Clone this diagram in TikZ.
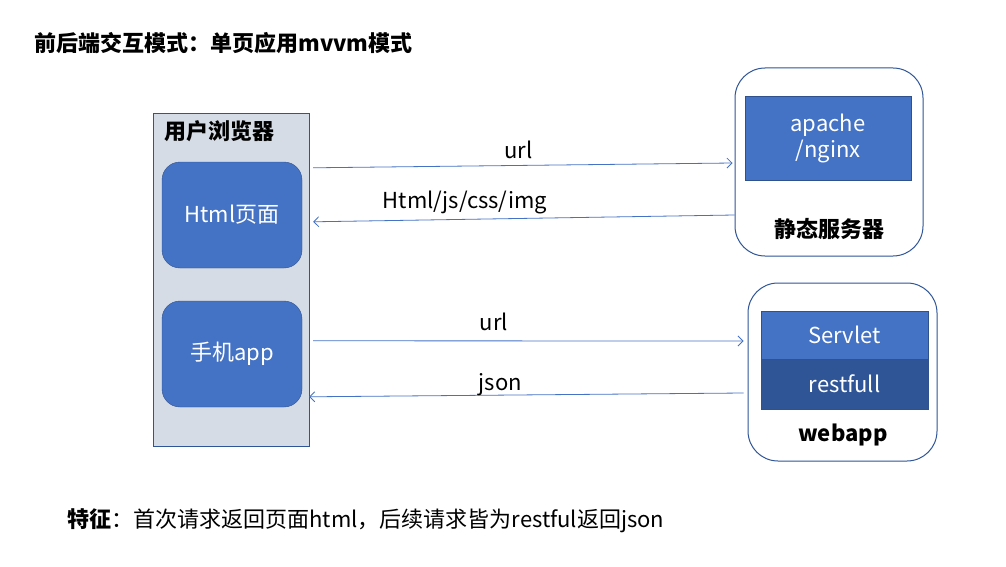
\documentclass[tikz,border=0pt]{standalone}
\usepackage{fontspec}
\setmainfont{Noto Sans CJK SC}
\usepackage{xcolor}
\usetikzlibrary{arrows}
\usetikzlibrary{arrows.meta}
\usetikzlibrary{calc}
\definecolor{boxblue}{HTML}{4472C4}
\definecolor{darkblue}{HTML}{2F5597}
\definecolor{edgeblue}{HTML}{2F528F}
\definecolor{panel}{HTML}{D6DCE5}
\newcommand{\txt}{\fontsize{22}{26}\selectfont}

\begin{document}
\begin{tikzpicture}[x=1pt,y=-1pt,
    every node/.style={font=\txt},
    bold/.style={font=\txt\bfseries},
    card/.style={draw=edgeblue,fill=boxblue,rounded corners=18pt,minimum width=140pt,minimum height=106pt,text=white},
    server/.style={draw=darkblue,line width=1pt,fill=white,rounded corners=30pt},
    block/.style={draw=edgeblue,fill=boxblue,text=white,inner sep=0pt,align=center},
    link/.style={->,>={Straight Barb[length=5pt,width=10pt]},draw=boxblue,line width=0.8pt}]
    \useasboundingbox (0,0) rectangle (1006,567);
    \node[bold,anchor=west] (title) at (31,43) {前后端交互模式：单页应用mvvm模式};
    % browser side
    \node[draw=darkblue,fill=panel,minimum width=156pt,minimum height=333pt] (browser) at (231,279.5) {};
    \node[bold,anchor=west] (browserlabel) at (161,131) {用户浏览器};
    \node[card] (html) at (232,215) {Html页面};
    \node[card] (app) at (232,354) {手机app};
    % static server
    \node[server,minimum width=188pt,minimum height=188pt] (static) at (829,162) {};
    \node[block,minimum width=166pt,minimum height=84pt] (apache) at (828,138) {apache\\/nginx};
    \node[bold] (staticlabel) at (829,229) {静态服务器};
    % webapp
    \node[server,minimum width=189pt,minimum height=178pt] (webapp) at (842.5,372) {};
    \node[block,minimum width=167pt,minimum height=48pt] (servlet) at (844.5,335) {Servlet};
    \node[block,fill=darkblue,minimum width=167pt,minimum height=50pt] (restfull) at (844.5,384) {restfull};
    \node[bold] (webapplabel) at (843,435) {webapp};
    % requests and replies
    \draw[link] ($(browser.north east)+(4,55)$) -- ($(static.west)+(-2,1)$) node[pos=0.49,above=3pt] {url};
    \draw[link] (static.west |- 0,215) -- ($(browser.north east)+(4,109)$) node[pos=0.64,above=2pt] {Html/js/css/img};
    \draw[link] ($(browser.north east)+(4,228)$) -- ($(webapp.west)+(-4,-31)$) node[pos=0.42,above=6pt] {url};
    \draw[link] ($(webapp.west)+(-4,21)$) -- ($(browser.north east)+(0,284)$) node[pos=0.56,above=-4pt] {json};
    \node[anchor=west] (feature) at (64,521) {\textbf{特征}：首次请求返回页面html，后续请求皆为restful返回json};
\end{tikzpicture}
\end{document}
